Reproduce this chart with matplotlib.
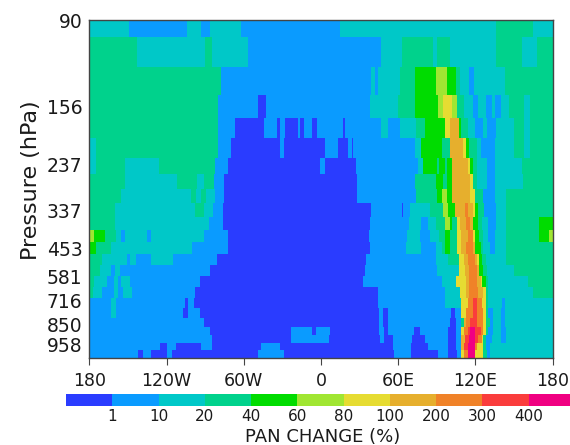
import matplotlib
matplotlib.use('Agg')
import matplotlib.pyplot as plt
import numpy as np
from matplotlib.colors import BoundaryNorm, ListedColormap

# colour classes of PAN change (%)
change_bounds = [0, 1, 10, 20, 40, 60, 80, 100, 200, 300, 400, 500]
change_mid = [0.5, 5, 15, 30, 50, 70, 90, 150, 250, 350, 450]
colors = ['#2a3cff', '#0a9bff', '#00c8c8', '#00d28c', '#00dc00', '#a0e632',
          '#e6dc32', '#e6af2d', '#f08228', '#fa3c3c', '#f00082']

pressure_ticks = [90, 156, 237, 337, 453, 581, 716, 850, 958]
lon_ticks = [-180, -120, -60, 0, 60, 120, 180]
lon_labels = ['180', '120W', '60W', '0', '60E', '120E', '180']

# layer edges, top to bottom (hPa)
pressure_edges = [90, 103, 126, 147, 171, 199, 227, 257, 290, 321, 358, 398, 435,
                  480, 531, 581, 640, 700, 755, 811, 861, 904, 947, 974, 1000]

# each layer: (eastern end of the run in degrees, colour class)
row_00 = [(-149, 2), (-104, 1), (-93, 2), (-86, 1), (-62, 2), (15, 1), (136, 2), (165, 3), (180, 2)]
row_01 = [(-143, 3), (-90, 2), (-85, 3), (-57, 2), (47, 1), (63, 2), (87, 3), (90, 2), (100, 3),
          (136, 2), (156, 3), (168, 2), (180, 3)]
row_02 = [(-78, 3), (39, 1), (42, 2), (44, 1), (61, 2), (73, 3), (89, 4), (98, 5), (105, 4),
          (108, 3), (115, 2), (119, 1), (143, 2), (180, 3)]
row_03 = [(-80, 3), (-49, 1), (-43, 0), (38, 1), (60, 2), (73, 3), (91, 4), (95, 5), (102, 6),
          (106, 5), (111, 3), (118, 2), (122, 1), (128, 2), (133, 1), (135, 2), (140, 1),
          (146, 2), (158, 3), (162, 2), (180, 3)]
row_04 = [(-80, 3), (-67, 1), (-44, 0), (-34, 1), (-32, 0), (-28, 1), (-18, 0), (-16, 1), (-13, 0),
          (-7, 1), (-3, 0), (17, 1), (19, 0), (47, 1), (52, 2), (61, 1), (74, 2), (81, 3), (96, 4),
          (100, 6), (107, 7), (109, 4), (114, 3), (120, 2), (126, 1), (129, 2), (136, 1), (150, 2),
          (158, 3), (162, 2), (180, 3)]
row_05 = [(-175, 2), (-80, 3), (-70, 1), (-32, 0), (-29, 1), (3, 0), (13, 1), (21, 0), (24, 1),
          (25, 0), (73, 1), (78, 2), (94, 4), (100, 3), (110, 7), (113, 6), (115, 4), (121, 3),
          (124, 2), (135, 1), (150, 2), (158, 3), (162, 2), (180, 3)]
row_06 = [(-175, 2), (-152, 3), (-126, 2), (-82, 3), (-72, 1), (-1, 0), (3, 1), (27, 0), (75, 1),
          (79, 2), (90, 4), (92, 3), (96, 4), (98, 3), (102, 4), (114, 7), (116, 6), (118, 4),
          (121, 3), (129, 2), (135, 1), (156, 2), (180, 3)]
row_07 = [(-152, 3), (-112, 2), (-96, 3), (-91, 2), (-83, 3), (-75, 1), (28, 0), (73, 1), (89, 3),
          (95, 4), (98, 3), (102, 4), (116, 7), (118, 6), (121, 3), (129, 2), (135, 1), (157, 2),
          (180, 3)]
row_08 = [(-155, 3), (-101, 2), (-97, 3), (-93, 2), (-89, 3), (-82, 2), (-75, 1), (28, 0), (74, 1),
          (90, 3), (94, 4), (98, 5), (102, 4), (116, 7), (120, 6), (126, 3), (135, 1), (144, 2),
          (180, 3)]
row_09 = [(-160, 3), (-98, 2), (-91, 3), (-84, 2), (-76, 1), (39, 0), (63, 1), (64, 0), (69, 1),
          (85, 2), (95, 3), (99, 5), (104, 4), (112, 7), (114, 8), (118, 7), (120, 6), (122, 4),
          (127, 3), (136, 1), (144, 2), (180, 3)]
row_10 = [(-160, 3), (-87, 2), (-76, 1), (38, 0), (68, 1), (78, 2), (83, 1), (89, 2), (96, 3),
          (100, 5), (102, 4), (106, 3), (108, 6), (113, 7), (116, 8), (118, 7), (122, 4), (125, 3),
          (130, 2), (136, 1), (144, 2), (169, 3), (180, 4)]
row_11 = [(-176, 5), (-168, 4), (-159, 3), (-155, 2), (-152, 1), (-135, 2), (-132, 1), (-91, 2),
          (-72, 1), (37, 0), (67, 1), (77, 2), (85, 1), (92, 2), (96, 3), (100, 4), (106, 3),
          (109, 6), (114, 7), (118, 8), (120, 6), (123, 4), (126, 3), (130, 2), (135, 1), (144, 2),
          (169, 3), (177, 4), (180, 5)]
row_12 = [(-175, 4), (-163, 3), (-100, 2), (-72, 1), (38, 0), (66, 1), (78, 2), (89, 1), (94, 2),
          (96, 3), (100, 4), (106, 3), (109, 6), (113, 7), (118, 8), (120, 7), (124, 4), (126, 3),
          (131, 2), (135, 1), (144, 2), (180, 3)]
row_13 = [(-170, 3), (-151, 2), (-148, 1), (-144, 2), (-132, 1), (-115, 2), (-81, 1), (35, 0),
          (89, 1), (99, 2), (107, 3), (111, 6), (114, 7), (120, 8), (121, 7), (123, 6), (125, 4),
          (128, 3), (144, 2), (180, 3)]
row_14 = [(-172, 3), (-163, 2), (-160, 1), (-156, 2), (-86, 1), (34, 0), (90, 1), (107, 2),
          (112, 6), (115, 7), (121, 8), (123, 7), (126, 4), (129, 3), (150, 2), (180, 3)]
row_15 = [(-176, 3), (-166, 2), (-161, 1), (-158, 2), (-155, 1), (-148, 2), (-94, 1), (33, 0),
          (94, 1), (105, 2), (113, 6), (115, 7), (121, 8), (124, 7), (125, 6), (128, 4), (130, 3),
          (161, 2), (180, 3)]
row_16 = [(-177, 3), (-170, 2), (-161, 1), (-158, 2), (-154, 1), (-147, 2), (-98, 1), (44, 0),
          (96, 1), (108, 2), (113, 6), (115, 7), (122, 8), (126, 7), (128, 6), (130, 3), (165, 2),
          (180, 3)]
row_17 = [(-163, 1), (-159, 2), (-106, 1), (-103, 0), (-99, 1), (44, 0), (96, 1), (109, 2),
          (114, 6), (118, 8), (121, 9), (125, 8), (128, 6), (130, 3), (141, 2), (143, 1), (180, 2)]
row_18 = [(-163, 1), (-159, 2), (-107, 1), (-103, 0), (-94, 1), (45, 0), (48, 1), (52, 0), (101, 1),
          (104, 0), (109, 1), (113, 6), (118, 8), (121, 9), (126, 8), (128, 6), (130, 3), (134, 1),
          (140, 2), (143, 1), (180, 2)]
row_19 = [(-91, 1), (45, 0), (48, 1), (52, 0), (100, 1), (105, 0), (109, 1), (111, 3), (113, 7),
          (116, 8), (121, 9), (126, 8), (128, 6), (131, 3), (134, 1), (140, 2), (143, 1), (180, 2)]
row_20 = [(-86, 1), (-23, 0), (-7, 1), (-4, 0), (7, 1), (45, 0), (49, 1), (52, 0), (72, 1), (77, 0),
          (99, 1), (105, 0), (109, 1), (111, 6), (114, 8), (116, 9), (120, 10), (124, 9), (126, 8),
          (128, 6), (130, 3), (134, 1), (140, 2), (144, 1), (180, 2)]
row_21 = [(-85, 1), (-23, 0), (6, 1), (46, 0), (49, 1), (56, 0), (71, 1), (81, 0), (99, 1), (105, 0),
          (109, 1), (112, 7), (115, 9), (120, 10), (122, 9), (125, 8), (126, 6), (128, 3), (133, 1),
          (140, 2), (144, 1), (180, 2)]
row_22 = [(-125, 1), (-120, 0), (-113, 1), (-93, 0), (-85, 1), (-47, 0), (-32, 1), (56, 0), (70, 1),
          (83, 0), (99, 1), (105, 0), (109, 1), (111, 7), (114, 9), (120, 10), (121, 8), (126, 6),
          (128, 3), (131, 1), (180, 2)]
row_23 = [(-142, 1), (-138, 0), (-132, 1), (-120, 0), (-116, 1), (-49, 0), (-29, 1), (57, 0), (70, 1),
          (91, 0), (99, 1), (106, 0), (109, 1), (111, 6), (114, 8), (120, 10), (126, 6), (129, 3),
          (131, 1), (180, 2)]

rows = [row_00, row_01, row_02, row_03, row_04, row_05, row_06, row_07, row_08, row_09, row_10,
        row_11, row_12, row_13, row_14, row_15, row_16, row_17, row_18, row_19, row_20, row_21,
        row_22, row_23]

lon_edges = np.arange(-180, 181, 1)
lon_mid = (lon_edges[:-1] + lon_edges[1:]) / 2
grid = np.zeros((len(rows), len(lon_mid)))
for i, row in enumerate(rows):
    ends = [r[0] for r in row]
    bins = [r[1] for r in row]
    idx = np.searchsorted(ends, lon_mid)
    grid[i] = np.array(change_mid)[np.array(bins)[idx]]

# the vertical axis of the original is hybrid, so map pressure to depth by table
scale_p = [90, 156, 237, 337, 453, 581, 716, 850, 958, 1000]
scale_d = [0, 87, 145, 190, 228, 256, 281, 305, 325, 338]


def forward(p):
    return np.interp(p, scale_p, scale_d)


def inverse(d):
    return np.interp(d, scale_d, scale_p)


fig = plt.figure(figsize=(5.7, 4.45), dpi=100)
ax = fig.add_axes([89.3 / 570, 1 - 358 / 445, 463.4 / 570, 338 / 445])
cmap = ListedColormap(colors)
norm = BoundaryNorm(change_bounds, cmap.N)
mesh = ax.pcolormesh(lon_edges, pressure_edges, grid, cmap=cmap, norm=norm, antialiased=False)
ax.set_yscale('function', functions=(forward, inverse))
ax.set_ylim(1000, 90)
ax.set_xlim(-180, 180)
ax.set_xticks(lon_ticks)
ax.set_xticklabels(lon_labels, fontsize=12.5, color='#1a1a1a')
ax.set_yticks(pressure_ticks)
ax.set_yticklabels([str(p) for p in pressure_ticks], fontsize=13.5, color='#1a1a1a')
ax.minorticks_off()
ax.tick_params(axis='x', length=5, width=0.8, color='#444444', pad=5)
ax.tick_params(axis='y', length=0, pad=5)
for s in ax.spines.values():
    s.set_linewidth(1)
    s.set_color('#444444')
ax.set_ylabel('Pressure (hPa)', fontsize=16, color='#1a1a1a', labelpad=4, y=0.527)

# colour bar runs past the right edge of the picture, as in the original
cax = fig.add_axes([66 / 570, 1 - 406 / 445, 509 / 570, 12 / 445])
cbar = fig.colorbar(mesh, cax=cax, orientation='horizontal', spacing='uniform',
                    ticks=change_bounds[1:-1])
cbar.outline.set_visible(False)
cbar.minorticks_off()
cbar.ax.set_xticklabels([str(b) for b in change_bounds[1:-1]], fontsize=11, color='#1a1a1a')
cbar.ax.tick_params(which='both', length=0, pad=2)
fig.text(323 / 570, 1 - 437 / 445, 'PAN CHANGE (%)', fontsize=13, color='#1a1a1a',
         ha='center', va='center')
fig.savefig('out.png', dpi=100)
